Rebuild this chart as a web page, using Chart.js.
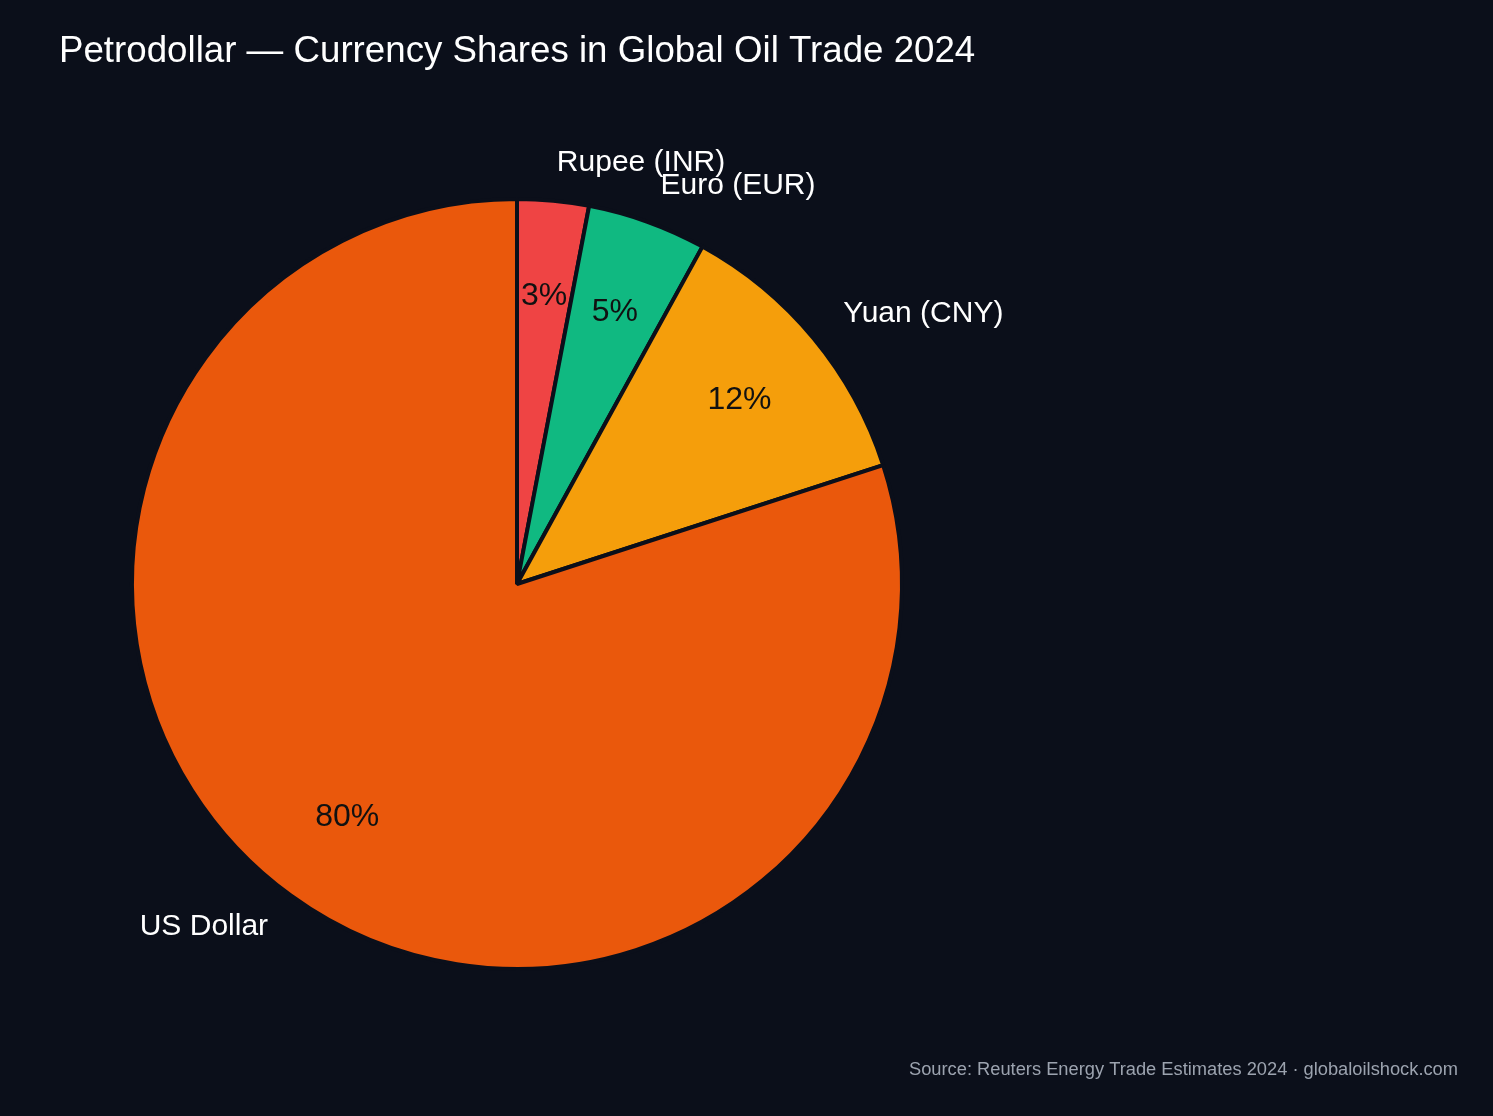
<!DOCTYPE html>
<html>
<head>
<meta charset="utf-8">
<script src="https://cdn.jsdelivr.net/npm/chart.js@4"></script>
<style>
  html, body { margin: 0; padding: 0; background: #0b0f1a; }
  #wrap { width: 1493px; height: 1116px; }
</style>
</head>
<body>
<div id="wrap"><canvas id="pieChart"></canvas></div>
<script>
// Data (clockwise from 12 o'clock)
const currencies = ['Rupee (INR)', 'Euro (EUR)', 'Yuan (CNY)', 'US Dollar'];
const shares = [3, 5, 12, 80];
const sliceColors = ['#ef4444', '#10b981', '#f59e0b', '#ea580c'];

const titleText = 'Petrodollar \u2014 Currency Shares in Global Oil Trade 2024';
const sourceText = 'Source: Reuters Energy Trade Estimates 2024 \u00b7 globaloilshock.com';
const fontFamily = '"Liberation Sans", Arial, Helvetica, sans-serif';

// Draws background, title, source line and the slice labels (matplotlib-like)
const textPlugin = {
  id: 'pieText',
  beforeDraw(chart) {
    const ctx = chart.ctx;
    ctx.save();
    ctx.fillStyle = '#0b0f1a';
    ctx.fillRect(0, 0, chart.width, chart.height);
    ctx.restore();
  },
  afterDraw(chart) {
    const ctx = chart.ctx;
    const arcs = chart.getDatasetMeta(0).data;
    ctx.save();

    // title
    ctx.fillStyle = '#ffffff';
    ctx.font = '36.7px ' + fontFamily;
    ctx.textAlign = 'left';
    ctx.textBaseline = 'middle';
    ctx.fillText(titleText, 59, 52);

    // source
    ctx.fillStyle = '#9ca3af';
    ctx.font = '18.3px ' + fontFamily;
    ctx.textAlign = 'right';
    ctx.fillText(sourceText, 1458, 1070);

    arcs.forEach((arc, i) => {
      const mid = (arc.startAngle + arc.endAngle) / 2;
      const r = arc.outerRadius;
      const cos = Math.cos(mid), sin = Math.sin(mid);

      // percentage inside
      ctx.fillStyle = '#111111';
      ctx.font = '32px ' + fontFamily;
      ctx.textAlign = 'center';
      ctx.fillText(shares[i] + '%', arc.x + cos * r * 0.75, arc.y + sin * r * 0.75);

      // name outside
      ctx.fillStyle = '#ffffff';
      ctx.font = '30px ' + fontFamily;
      const lx = arc.x + cos * r * 1.1;
      ctx.textAlign = lx >= arc.x ? 'left' : 'right';
      ctx.fillText(currencies[i], lx, arc.y + sin * r * 1.1);
    });
    ctx.restore();
  }
};

const ctx = document.getElementById('pieChart').getContext('2d');
new Chart(ctx, {
  type: 'pie',
  data: {
    labels: currencies,
    datasets: [{
      data: shares,
      backgroundColor: sliceColors,
      borderColor: '#0b0f1a',
      borderWidth: 4
    }]
  },
  options: {
    responsive: true,
    maintainAspectRatio: false,
    animation: false,
    layout: { padding: { left: 130, top: 197, right: 589, bottom: 145 } },
    plugins: {
      legend: { display: false },
      tooltip: { enabled: false }
    }
  },
  plugins: [textPlugin]
});
</script>
</body>
</html>
